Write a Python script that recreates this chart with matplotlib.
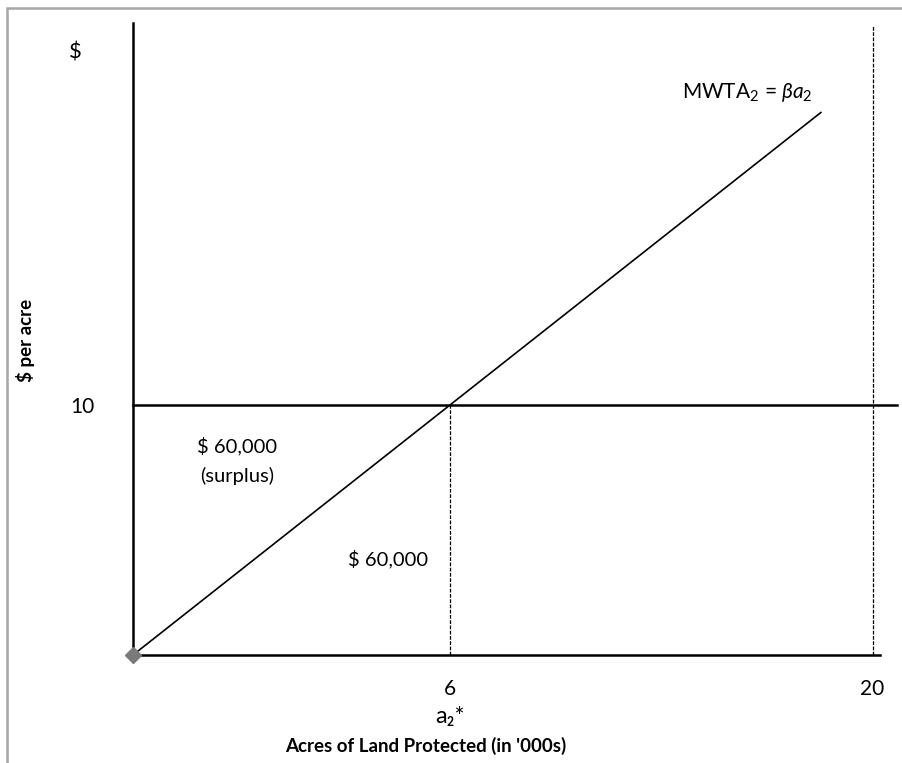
import matplotlib.pyplot as plt
from matplotlib.patches import Rectangle

plt.rcParams['font.family'] = ['Lato', 'DejaVu Sans']
plt.rcParams['mathtext.fontset'] = 'custom'
plt.rcParams['mathtext.rm'] = 'Lato'
plt.rcParams['mathtext.it'] = 'Lato:italic'

# datos del esquema
mwta_x = [0, 13.02]
mwta_y = [0, 21.7]
precio = 10
a_opt = 6
a_max = 14.0
xtick_pos = [6, 14.0]
xtick_lab = ['6', '20']
ytick_pos = [10]
ytick_lab = ['10']

fig = plt.figure(figsize=(9.02, 7.63), dpi=100)

# marco gris de la figura
fig.patches.append(Rectangle((7/902, -0.05), 1.2, 1.05 - 8/763, transform=fig.transFigure,
                             fill=False, edgecolor='#a6a6a6', linewidth=1.8))

# eje: origen en el pixel (133, 655)
ax = fig.add_axes([133/902, 108/763, (902-133)/902, 655/763])
ax.set_xlim(0, (902-133)/52.83)
ax.set_ylim(0, 655/25)
ax.patch.set_alpha(0)

ax.spines['top'].set_visible(False)
ax.spines['right'].set_visible(False)
ax.spines['left'].set_bounds(0, 25.3)
ax.spines['bottom'].set_bounds(0, 14.14)
ax.spines['left'].set_linewidth(1.8)
ax.spines['bottom'].set_linewidth(1.8)

ax.set_xticks(xtick_pos)
ax.set_xticklabels(xtick_lab, fontsize=15)
ax.set_yticks(ytick_pos)
ax.set_yticklabels(ytick_lab, fontsize=15)
ax.tick_params(axis='x', length=0, pad=17)
ax.tick_params(axis='y', length=0, pad=28)

# curva MWTA
ax.plot(mwta_x, mwta_y, color='black', linewidth=1.2, clip_on=False)
ax.plot([0], [0], marker='D', color='#7a7a7a', markersize=8, clip_on=False, zorder=5)

# precio = 10
ax.plot([0, 14.46], [precio, precio], color='black', linewidth=1.8, clip_on=False)

# lineas punteadas
ax.plot([a_opt, a_opt], [0, precio], color='black', linewidth=0.9, dashes=(3, 1.2))
ax.plot([a_max, a_max], [0, 25.2], color='black', linewidth=0.9, dashes=(3, 1.2))

# textos
ax.text(-1.10, 24.1, '$', fontsize=16, ha='center', va='center', clip_on=False)
ax.text(1.97, 8.36, '$ 60,000', fontsize=14.5, ha='center', va='center')
ax.text(1.97, 7.16, '(surplus)', fontsize=14.5, ha='center', va='center')
ax.text(4.83, 3.84, '$ 60,000', fontsize=14.5, ha='center', va='center')
ax.text(11.62, 22.52, r'MWTA$_2$ = $\beta a_2$', fontsize=15, ha='center', va='center')
ax.text(a_opt, -2.48, 'a₂*', fontsize=17, ha='center', va='center', clip_on=False)
ax.text(5.55, -3.64, "Acres of Land Protected (in '000s)", fontsize=13.5, fontweight='bold',
        ha='center', va='center', clip_on=False)
ax.text(-2.04, 12.6, '$ per acre', fontsize=13.5, fontweight='bold', rotation=90,
        ha='center', va='center', clip_on=False)

fig.savefig('out.png', dpi=100)
